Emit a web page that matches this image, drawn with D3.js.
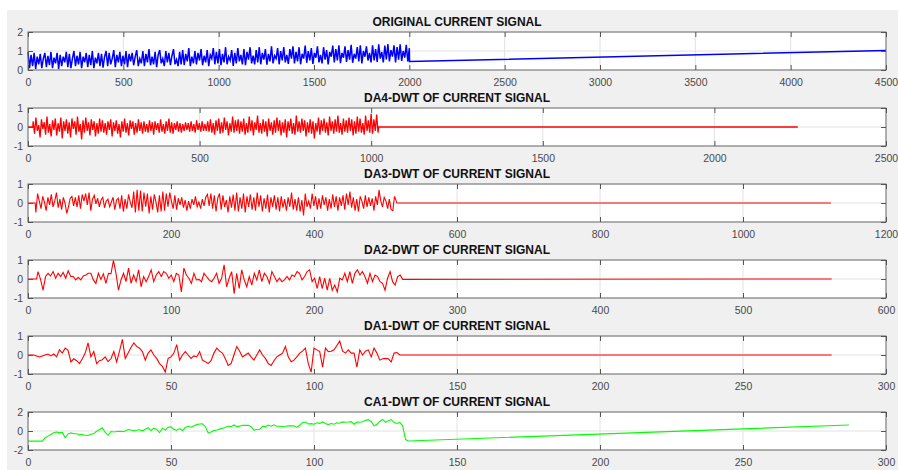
<!DOCTYPE html>
<html>
<head>
<meta charset="utf-8">
<script src="https://cdn.jsdelivr.net/npm/d3@7"></script>
<style>
  body { margin: 0; background: #fff; }
  svg { display: block; font-family: "Liberation Sans", Arial, Helvetica, sans-serif; }
</style>
</head>
<body>
<svg id="chart" width="898" height="470"></svg>
<script>
// ---- panel settings
const titles = ["ORIGINAL CURRENT SIGNAL", "DA4-DWT OF CURRENT SIGNAL", "DA3-DWT OF CURRENT SIGNAL",
                "DA2-DWT OF CURRENT SIGNAL", "DA1-DWT OF CURRENT SIGNAL", "CA1-DWT OF CURRENT SIGNAL"]
const xMaxes = [4500, 2500, 1200, 600, 300, 300]
const xTickSteps = [500, 500, 200, 100, 50, 50]
const yTickSets = [[0, 1, 2], [-1, 0, 1], [-1, 0, 1], [-1, 0, 1], [-1, 0, 1], [-2, 0, 2]]
const lineColors = ["#0000ff", "#ff0000", "#ff0000", "#ff0000", "#ff0000", "#00ff00"]
const lineWidths = [1.5, 1.3, 1.1, 1.1, 1.1, 1.1]

// ---- original current signal (noisy part 0..2000, then a slow ramp)
const origBand = [
  0.95,0.1,0.8,0.2,0.9,0.05,0.7,0.3,0.85,0.1,0.6,0.9,0.15,0.75,0.25,0.95,0.1,0.65,0.35,0.9,0.05,0.8,0.2,0.7,0.4,
  0.95,0.15,0.85,0.1,0.6,1.0,0.2,0.75,0.3,0.95,0.1,0.7,0.4,0.9,0.15,0.8,0.25,1.0,0.1,0.65,0.35,0.9,0.2,0.85,0.12,
  0.7,1.0,0.2,0.9,0.3,0.6,1.05,0.15,0.8,0.4,0.95,0.2,0.75,0.3,1.0,0.15,0.85,0.45,0.9,0.25,0.7,1.05,0.2,0.6,0.35,
  1.0,0.2,0.85,0.4,1.1,0.25,0.7,0.3,0.95,0.15,0.8,1.05,0.35,0.6,0.2,1.0,0.4,0.9,0.25,0.75,1.1,0.3,0.55,0.2,0.95,
  0.3,1.05,0.25,0.85,0.45,1.15,0.2,0.7,0.35,1.0,0.3,0.9,0.5,1.1,0.25,0.75,0.4,1.05,0.2,0.8,0.6,1.15,0.3,0.95,0.35,
  1.1,0.25,0.85,0.4,1.2,0.3,0.7,0.5,1.05,0.22,0.9,0.35,1.15,0.45,0.8,0.3,1.1,0.25,0.95,0.55,1.2,0.35,0.75,0.3,1.05,
  0.4,1.2,0.3,0.9,0.55,1.1,0.28,0.85,0.45,1.25,0.35,0.75,0.6,1.15,0.3,1.0,0.5,1.2,0.4,0.8,0.32,1.1,0.6,1.25,0.35,
  0.95,0.45,1.2,0.3,0.85,0.6,1.28,0.38,1.0,0.5,1.15,0.32,0.9,0.65,1.25,0.4,0.8,0.35,1.2,0.55,1.05,0.3,0.95,0.7,1.28,
  0.4,1.1,0.5,1.3,0.36,0.9,0.65,1.25,0.42,1.05,0.55,1.32,0.38,0.85,0.6,1.2,0.45,1.3,0.35,1.0,0.7,1.25,0.5,0.9,0.4,
  1.3,0.5,1.1,0.42,1.35,0.6,0.95,0.4,1.28,0.55,1.36,0.45,1.05,0.7,1.3,0.4,1.2,0.55,1.35,0.48,1.0,0.65,1.32,0.45,1.15
]
const origSpan = [0, 2000]
const origHead = []
const origTail = [[2001, 0.45], [4500, 1.03]]

// ---- DA4
const da4Noise = [
  0.3,-0.35,0.5,-0.2,0.1,-0.55,0.4,-0.1,0.25,-0.4,0.55,-0.3,0.15,-0.5,0.35,-0.15,0.45,-0.45,0.2,-0.25,0.5,-0.6,0.3,-0.2,0.4,
  -0.35,0.25,-0.55,0.45,-0.1,0.3,-0.4,0.55,-0.25,0.15,-0.65,0.35,-0.3,0.5,-0.2,0.25,-0.45,0.4,-0.15,0.3,-0.5,0.2,-0.35,0.45,-0.25,
  0.35,-0.3,0.2,-0.4,0.3,-0.15,0.4,-0.5,0.25,-0.2,0.35,-0.35,0.15,-0.55,0.3,-0.25,0.45,-0.3,0.2,-0.45,0.35,-0.1,0.3,-0.4,0.2,
  -0.3,0.4,-0.2,0.25,-0.35,0.3,-0.25,0.15,-0.3,0.35,-0.2,0.25,-0.4,0.3,-0.15,0.2,-0.3,0.4,-0.25,0.15,-0.35,0.3,-0.2,0.45,-0.3,
  0.25,-0.35,0.2,-0.15,0.3,-0.25,0.2,-0.3,0.15,-0.2,0.25,-0.15,0.2,-0.25,0.3,-0.2,0.15,-0.3,0.35,-0.15,0.2,-0.25,0.3,-0.2,0.15,
  -0.2,0.3,-0.25,0.4,-0.3,0.2,-0.4,0.35,-0.2,0.45,-0.35,0.25,-0.3,0.5,-0.15,0.3,-0.45,0.2,-0.25,0.55,-0.3,0.35,-0.2,0.4,-0.35,
  0.3,-0.25,0.45,-0.4,0.2,-0.3,0.55,-0.2,0.35,-0.45,0.25,-0.15,0.6,-0.3,0.2,-0.35,0.4,-0.25,0.3,-0.5,0.45,-0.2,0.25,-0.4,0.35,
  -0.3,0.5,-0.2,0.35,-0.45,0.25,-0.3,0.4,-0.55,0.3,-0.2,0.45,-0.35,0.2,-0.4,0.6,-0.25,0.3,-0.3,0.45,-0.2,0.35,-0.5,0.25,-0.3,
  0.4,-0.35,0.3,-0.6,0.2,-0.25,0.5,-0.4,0.35,-0.2,0.45,-0.3,0.25,-0.45,0.55,-0.2,0.3,-0.35,0.4,-0.25,0.6,-0.3,0.2,-0.4,0.45,
  -0.25,0.35,-0.3,0.5,-0.2,0.4,-0.45,0.3,-0.35,0.55,-0.25,0.45,-0.3,0.2,-0.4,0.6,-0.2,0.35,-0.3,0.7,-0.35,0.4,-0.2,0.65,-0.3
]
const da4Span = [15, 1020]
const da4Head = [[0, 0], [14, 0]]
const da4Tail = [[1022, 0], [2243, 0]]

// ---- DA3
const da3Noise = [
  -0.5,0.5,0.1,-0.3,0.35,0.05,-0.4,0.3,-0.1,0.45,-0.2,0.1,0.55,-0.25,0.2,-0.35,0.3,0,-0.55,-0.2,0.25,0.35,-0.15,0.3,-0.2,
  0.4,-0.3,0.45,0.1,0.5,-0.1,0.55,-0.4,0.2,0.4,-0.05,0.25,-0.2,0.15,0.3,-0.25,0.1,0.2,-0.2,0.05,0.3,-0.35,0.15,0.25,-0.3,
  0.4,-0.45,0.2,-0.3,0.45,0.05,-0.25,0.6,-0.5,0.7,-0.4,0.65,-0.45,0.55,-0.2,0.5,-0.55,0.35,-0.35,0.45,0.05,-0.5,0.4,-0.45,0.6,
  -0.4,0.5,-0.2,0.55,0.1,-0.3,0.4,-0.35,0.25,-0.1,0.3,-0.25,0.15,-0.4,0.1,-0.3,0.2,-0.1,0.35,-0.2,0.05,-0.3,0.2,-0.15,0.3,
  0.45,-0.15,0.5,-0.3,0.4,-0.45,0.25,0.5,-0.35,0.4,-0.2,0.15,-0.5,0.35,-0.25,0.45,-0.4,0.55,-0.45,0.3,-0.3,0.5,-0.5,0.35,-0.2,
  0.45,-0.35,0.3,-0.4,0.55,-0.2,0.4,-0.45,0.25,-0.3,0.45,-0.5,0.3,-0.2,0.4,-0.35,0.3,-0.45,0.35,-0.25,0.2,-0.4,0.3,-0.2,0.55,
  -0.35,0.2,-0.4,0.3,-0.45,0.15,-0.66,0.5,-0.2,0.1,-0.3,0.5,-0.15,0.35,-0.35,0.25,-0.3,0.4,-0.1,0.3,-0.4,0.2,-0.3,0.45,-0.2,
  0.35,-0.4,0.3,-0.15,0.4,-0.35,0.5,-0.1,0.6,-0.25,0.3,-0.4,0.2,-0.45,0.35,0.1,-0.3,0.4,-0.2,0.3,-0.15,0.25,-0.4,0.35,-0.1,
  0.68,0.1,-0.2,0.3,0.1,-0.3,0.2,-0.35,-0.4,0.35,0.1
]
const da3Span = [11, 515]
const da3Head = [[0, 0], [10, 0]]
const da3Tail = [[516, 0], [1123, 0]]

// ---- DA2
const da2Noise = [
  0.39,-0.02,-0.59,0.13,0.30,0.16,0.39,0.04,0.30,0.13,
  0.34,0.04,0.43,0.13,0.13,-0.05,0.09,-0.05,0.16,0.21,
  0.30,0.30,-0.05,-0.23,0.30,-0.02,0.27,-0.23,0.30,0.27,
  0.98,0.30,-0.59,-0.05,0.30,-0.14,0.57,-0.23,0.21,-0.14,
  0.48,-0.41,0.13,-0.14,0.13,0.48,-0.14,0.21,0.39,0.13,
  0.39,0.30,0.04,0.21,-0.14,0.30,0.21,-0.68,0.57,0.21,
  0.04,-0.23,0.30,-0.05,-0.02,-0.14,0.30,0.13,-0.05,-0.14,
  0.04,0.30,-0.23,0.04,0.75,-0.41,0.04,0.39,-0.77,0.30,
  -0.50,0.48,-0.05,-0.41,0.13,-0.32,0.30,-0.05,0.48,-0.14,
  0.30,0.13,-0.23,0.39,0.13,-0.14,0.04,-0.14,-0.05,0.13,
  -0.05,0.21,0.13,0.39,0.30,-0.05,0.13,0.39,0.48,-0.14,
  0.04,-0.50,0.13,-0.50,0.04,-0.59,0.04,-0.59,-0.32,-0.68,
  0.04,-0.05,0.30,-0.14,0.39,-0.23,0.30,0.48,0.21,0.39,
  0.13,-0.23,0.30,-0.14,0.21,0.13,-0.14,-0.23,-0.59,0.04,
  0.39,-0.14,-0.32,0.13,0.21,-0.02
]
const da2Span = [7, 262]
const da2Head = [[0, 0], [6, 0]]
const da2Tail = [[562, 0]]

// ---- DA1
const da1Noise = [
  0,0,0,-0.05,-0.1,-0.05,0,0.05,-0.05,0.05,
  -0.1,0.27,0.1,0.36,0.25,-0.36,-0.2,-0.3,-0.45,-0.2,
  0.1,0.64,-0.1,0.18,-0.45,-0.3,-0.25,-0.1,-0.35,-0.2,
  0.18,-0.36,0.2,0.82,-0.18,0.1,0.4,0.64,0.45,0.36,
  0.18,-0.27,0.1,0.27,0,-0.18,-0.45,-0.6,-0.9,-0.18,
  -0.1,0.1,0.55,-0.27,0,0.18,0,-0.18,-0.05,-0.1,
  0.18,-0.27,-0.35,-0.45,-0.3,0.1,0.36,0.2,0.1,-0.2,
  -0.55,-0.45,0,0.45,0.2,-0.1,0,0.1,-0.1,-0.27,
  0,0.27,0,-0.18,-0.45,-0.55,-0.3,-0.1,0,0.1,
  0.45,-0.1,-0.36,-0.27,-0.1,0.1,0.2,0.36,-0.45,-0.9,
  0.36,0.27,0.18,-0.64,0.36,0.18,0.2,0.27,0.5,0.73,
  0.2,0.1,0.27,0.1,0.1,-0.64,0.27,0,0.2,0.27,
  -0.1,0.36,0.1,-0.27,-0.2,-0.18,-0.2,-0.36,0.1,0.13,
  0
]
const da1Span = [0, 130]
const da1Head = []
const da1Tail = [[281, 0]]

// ---- CA1
const ca1Noise = [
  -0.71,-0.54,-0.36,-0.18,-0.11,-0.2,-0.15,-0.71,-0.3,-0.2,
  -0.29,-0.29,-0.4,-0.38,-0.45,-0.47,-0.34,-0.27,-0.03,0.15,
  0.35,-0.15,-0.45,-0.05,-0.1,-0.05,-0.02,-0.06,0,0.16,
  0.1,0.02,0.08,0.13,0.02,0.18,0.34,0.05,0.3,0.16,
  -0.18,0.3,0.1,0.4,0.43,0.17,0.08,0.25,0.05,0.36,
  0.5,0.4,0.56,0.67,0.73,0.76,0.45,-0.2,-0.1,0.04,
  0.11,0.2,0.29,0.36,0.52,0.46,0.64,0.45,0.51,0.6,
  0.59,0.6,0.45,0.1,0.16,0.18,0.5,0.44,0.62,0.5,
  0.65,0.5,0.5,0.48,0.5,0.54,0.54,0.54,0.38,0.6,
  0.9,0.95,0.74,0.78,0.71,0.87,0.8,0.95,0.8,0.68,
  0.79,0.71,0.86,0.82,0.96,0.92,0.95,0.99,0.71,0.95,
  0.92,0.98,1.12,1.2,0.98,0.54,0.7,1.0,1.22,0.92,
  1.07,1.2,0.89,0.79,0.9,0.54
]
const ca1Span = [6, 131]
const ca1Head = [[0, -1.07], [5, -1.07]]
const ca1Tail = [[132, -0.9], [133, -1.05], [287, 0.63]]

// spread a list of samples evenly over [a, b]
function spread(values, span) {
    const step = (span[1] - span[0]) / (values.length - 1)
    return values.map((v, i) => [span[0] + i * step, v])
}

const series = [
    origHead.concat(spread(origBand, origSpan), origTail),
    da4Head.concat(spread(da4Noise, da4Span), da4Tail),
    da3Head.concat(spread(da3Noise, da3Span), da3Tail),
    da2Head.concat(spread(da2Noise, da2Span), da2Tail),
    da1Head.concat(spread(da1Noise, da1Span), da1Tail),
    ca1Head.concat(spread(ca1Noise, ca1Span), ca1Tail)
]

// ---- layout
const plotLeft = 28, plotRight = 886
const firstTop = 32, pitch = 76, plotH = 38

const svg = d3.select("#chart")
svg.append("rect").attr("x", 7).attr("y", 10).attr("width", 891).attr("height", 460).attr("fill", "#f0f0f0")

titles.forEach(function(title, i) {
    const top = firstTop + i * pitch
    const x = d3.scaleLinear().domain([0, xMaxes[i]]).range([plotLeft, plotRight])
    const yt = yTickSets[i]
    const y = d3.scaleLinear().domain([yt[0], yt[yt.length - 1]]).range([top + plotH, top])
    const xt = d3.range(0, xMaxes[i] + 1, xTickSteps[i])

    const g = svg.append("g")
    g.append("rect")
        .attr("x", plotLeft).attr("y", top)
        .attr("width", plotRight - plotLeft).attr("height", plotH)
        .attr("fill", "#fff")

    // grid
    g.selectAll(".vg").data(xt).enter().append("line")
        .attr("x1", d => x(d)).attr("x2", d => x(d))
        .attr("y1", top).attr("y2", top + plotH)
        .attr("stroke", "#e2e2e2")
    g.selectAll(".hg").data(yt).enter().append("line")
        .attr("x1", plotLeft).attr("x2", plotRight)
        .attr("y1", d => y(d)).attr("y2", d => y(d))
        .attr("stroke", "#e2e2e2")

    // signal
    const line = d3.line().x(d => x(d[0])).y(d => y(d[1]))
    g.append("path")
        .datum(series[i])
        .attr("d", line)
        .attr("fill", "none")
        .attr("stroke", lineColors[i])
        .attr("stroke-width", lineWidths[i])

    // box
    g.append("rect")
        .attr("x", plotLeft).attr("y", top)
        .attr("width", plotRight - plotLeft).attr("height", plotH)
        .attr("fill", "none").attr("stroke", "#6e6e6e")

    // axes with inward ticks
    const bottom = g.append("g").attr("transform", `translate(0,${top + plotH})`)
        .call(d3.axisBottom(x).tickValues(xt).tickSize(-5).tickPadding(8.5).tickFormat(d => String(d)))
    const topAx = g.append("g").attr("transform", `translate(0,${top})`)
        .call(d3.axisTop(x).tickValues(xt).tickSize(-5).tickFormat(""))
    const left = g.append("g").attr("transform", `translate(${plotLeft},0)`)
        .call(d3.axisLeft(y).tickValues(yt).tickSize(-5).tickPadding(5).tickFormat(d => String(d)))
    const right = g.append("g").attr("transform", `translate(${plotRight},0)`)
        .call(d3.axisRight(y).tickValues(yt).tickSize(-5).tickFormat(""))
    ;[bottom, topAx, left, right].forEach(a => {
        a.select(".domain").remove()
        a.selectAll(".tick line").attr("stroke", "#555")
        a.selectAll("text").attr("fill", "#4a4a4a").style("font-size", "10.5px")
            .style("font-family", '"Liberation Sans", Arial, sans-serif')
    })

    // title
    g.append("text")
        .attr("x", (plotLeft + plotRight) / 2).attr("y", top - 6)
        .attr("text-anchor", "middle")
        .style("font-size", "12px").style("font-weight", "bold")
        .attr("fill", "#111")
        .text(title)
})
</script>
</body>
</html>
